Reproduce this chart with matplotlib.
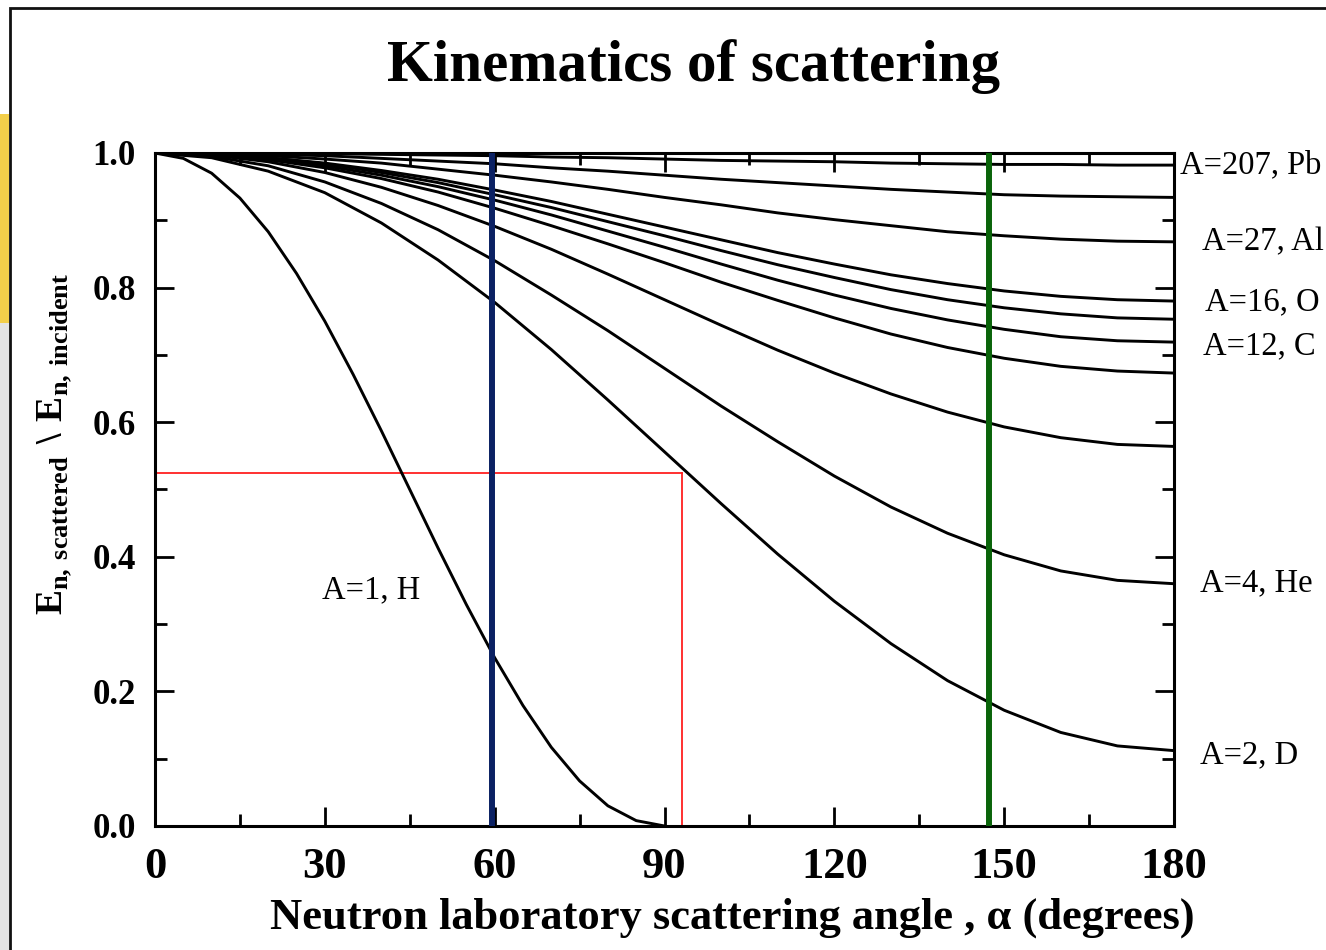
import matplotlib

matplotlib.use("Agg")

import matplotlib.pyplot as plt
from matplotlib.patches import Rectangle
from matplotlib.ticker import FormatStrFormatter, MultipleLocator

plt.rcParams["font.family"] = ["Liberation Serif", "DejaVu Serif"]
plt.rcParams["mathtext.fontset"] = "custom"
plt.rcParams["mathtext.rm"] = "Liberation Serif:bold"
plt.rcParams["mathtext.bf"] = "Liberation Serif:bold"

ANGLES = [0, 10, 20, 30, 40, 50, 60, 70, 80, 90, 100, 110, 120, 130, 140, 150, 160, 170, 180]
ANGLES_H = [0, 5, 10, 15, 20, 25, 30, 35, 40, 45, 50, 55, 60, 65, 70, 75, 80, 85, 90]

# E_scattered / E_incident for each target
E_H = [1.000, 0.992, 0.970, 0.933, 0.883, 0.821, 0.750, 0.671, 0.587, 0.500,
       0.413, 0.329, 0.250, 0.179, 0.117, 0.067, 0.030, 0.008, 0.000]
E_D = [1.000, 0.993, 0.973, 0.941, 0.896, 0.841, 0.778, 0.708, 0.633, 0.556,
       0.479, 0.404, 0.334, 0.271, 0.216, 0.172, 0.139, 0.119, 0.112]
E_HE = [1.000, 0.995, 0.981, 0.957, 0.925, 0.886, 0.840, 0.789, 0.736, 0.680,
        0.624, 0.571, 0.520, 0.474, 0.435, 0.403, 0.379, 0.365, 0.360]
E_LI = [1.000, 0.997, 0.987, 0.971, 0.949, 0.922, 0.891, 0.857, 0.820, 0.782,
        0.744, 0.707, 0.673, 0.642, 0.615, 0.593, 0.577, 0.567, 0.564]
E_B = [1.000, 0.998, 0.990, 0.978, 0.962, 0.942, 0.918, 0.892, 0.865, 0.837,
       0.808, 0.781, 0.755, 0.731, 0.711, 0.695, 0.683, 0.676, 0.673]
E_C = [1.000, 0.998, 0.992, 0.981, 0.967, 0.950, 0.930, 0.908, 0.884, 0.860,
       0.835, 0.811, 0.789, 0.769, 0.752, 0.738, 0.727, 0.721, 0.719]
E_N = [1.000, 0.998, 0.993, 0.984, 0.971, 0.956, 0.938, 0.919, 0.898, 0.877,
       0.855, 0.834, 0.815, 0.797, 0.782, 0.770, 0.761, 0.755, 0.753]
E_O = [1.000, 0.998, 0.993, 0.985, 0.974, 0.961, 0.945, 0.928, 0.909, 0.890,
       0.871, 0.852, 0.835, 0.819, 0.806, 0.795, 0.787, 0.782, 0.780]
E_AL = [1.000, 0.999, 0.996, 0.991, 0.985, 0.976, 0.967, 0.957, 0.946, 0.934,
        0.923, 0.911, 0.901, 0.892, 0.883, 0.877, 0.872, 0.869, 0.868]
E_FE = [1.000, 1.000, 0.998, 0.996, 0.992, 0.988, 0.984, 0.978, 0.973, 0.967,
        0.961, 0.956, 0.951, 0.946, 0.942, 0.938, 0.936, 0.935, 0.934]
E_PB = [1.000, 1.000, 0.999, 0.999, 0.998, 0.997, 0.996, 0.994, 0.993, 0.991,
        0.989, 0.988, 0.987, 0.985, 0.984, 0.983, 0.983, 0.982, 0.982]

HEAVY_CURVES = [E_D, E_HE, E_LI, E_B, E_C, E_N, E_O, E_AL, E_FE, E_PB]

LABELS = ["A=207, Pb", "A=27, Al", "A=16, O", "A=12, C", "A=4, He", "A=2, D"]
LABEL_POS = [(181.1, 0.982), (184.9, 0.868), (185.5, 0.779), (185.1, 0.713),
             (184.6, 0.361), (184.6, 0.105)]

BLUE_ANGLE = 59.5
GREEN_ANGLE = 147.3
RED_ANGLE = 93.1
RED_LEVEL = 0.525

fig = plt.figure(figsize=(13.26, 9.5), dpi=100)

# slide remnants on the far left + frame
fig.patches.append(Rectangle((0, 0.66), 9 / 1326, 0.22, transform=fig.transFigure,
                             facecolor="#f3cf4a", edgecolor="none"))
fig.patches.append(Rectangle((0, 0.0), 9 / 1326, 0.66, transform=fig.transFigure,
                             facecolor="#e4e4e4", edgecolor="none"))
fig.patches.append(Rectangle((10 / 1326, -0.05), 1.2, 1.05 - 8 / 950,
                             transform=fig.transFigure, fill=False,
                             edgecolor="#111111", linewidth=2.0))

ax = fig.add_axes([155 / 1326, 1 - 826 / 950, 1019 / 1326, 673 / 950])

ax.plot([0, RED_ANGLE], [RED_LEVEL, RED_LEVEL], color="#ff2020", lw=1.3, zorder=2)
ax.plot([RED_ANGLE, RED_ANGLE], [0, RED_LEVEL], color="#ff2020", lw=1.3, zorder=2)

ax.plot(ANGLES_H, E_H, color="black", lw=2.1, zorder=3)
for vals in HEAVY_CURVES:
    ax.plot(ANGLES, vals, color="black", lw=2.1, zorder=3)

ax.axvline(BLUE_ANGLE, color="#0b2163", lw=4.3, zorder=4)
ax.axvline(GREEN_ANGLE, color="#0a640a", lw=4.3, zorder=4)

for text, (lx, ly) in zip(LABELS, LABEL_POS):
    ax.text(lx, ly, text, fontsize=23.5, ha="left", va="center", clip_on=False)
ax.text(29.5, 0.351, "A=1, H", fontsize=23.5, ha="left", va="center")

ax.set_xlim(0, 180)
ax.set_ylim(0, 1.0)
ax.xaxis.set_major_locator(MultipleLocator(30))
ax.xaxis.set_minor_locator(MultipleLocator(15))
ax.yaxis.set_major_locator(MultipleLocator(0.2))
ax.yaxis.set_minor_locator(MultipleLocator(0.1))
ax.yaxis.set_major_formatter(FormatStrFormatter("%.1f"))

for spine in ax.spines.values():
    spine.set_linewidth(2.2)
ax.tick_params(which="both", direction="in", top=True, right=True, width=2.0)
ax.tick_params(which="major", length=14)
ax.tick_params(which="minor", length=8.5)
ax.tick_params(axis="x", which="major", labelsize=32, pad=15)
ax.tick_params(axis="y", which="major", labelsize=25, pad=14)
for lab in ax.get_xticklabels() + ax.get_yticklabels():
    lab.set_fontweight("bold")

fig.text(694 / 1326, 1 - 67 / 950, "Kinematics of scattering", fontsize=42.5,
         fontweight="bold", ha="center", va="center")
fig.text(732 / 1326, 1 - 918 / 950, "Neutron laboratory scattering angle , α (degrees)",
         fontsize=32, fontweight="bold", ha="center", va="center")
fig.text(55 / 1326, 1 - 444 / 950,
         r"$\mathrm{E}_{\mathrm{n,\,scattered}}\ \backslash\ \mathrm{E}_{\mathrm{n,\,incident}}$",
         fontsize=27, rotation=90, ha="center", va="center")

fig.savefig("out.png", dpi=100)
